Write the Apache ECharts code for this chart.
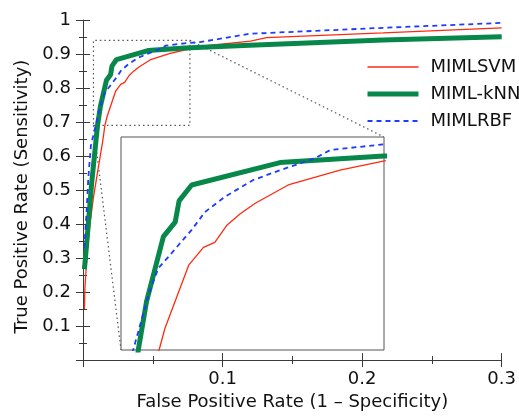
<!DOCTYPE html>
<html>
<head>
<meta charset="utf-8">
<script src="https://cdn.jsdelivr.net/npm/echarts@6/dist/echarts.min.js"></script>
<style>
html,body{margin:0;padding:0;background:#fff;}
#main{width:519px;height:416px;}
</style>
</head>
<body>
<div id="main"></div>
<script>
// ROC points [FPR, TPR]
var svmPts = [[0.001,0.15],[0.0014,0.214],[0.0034,0.34],[0.005,0.40],[0.0074,0.476],[0.0105,0.554],[0.014,0.64],
    [0.0157,0.69],[0.0172,0.7155],[0.0233,0.79],[0.027,0.8105],[0.0299,0.8164],[0.0329,0.836],[0.0363,0.8496],
    [0.0401,0.862],[0.0486,0.8837],[0.0618,0.901],[0.0728,0.9118],[0.09,0.925],[0.12,0.938],[0.1315,0.948],
    [0.215,0.962],[0.3,0.977]];
var knnPts = [[0.001,0.267],[0.0026,0.34],[0.0038,0.40],[0.0062,0.52],[0.0104,0.69],[0.0125,0.7467],[0.0168,0.823],
    [0.0198,0.84],[0.0208,0.865],[0.024,0.8837],[0.0465,0.91],[0.073,0.9177],[0.1195,0.926],[0.215,0.941],[0.3,0.951]];
var rbfPts = [[0.001,0.33],[0.0014,0.36],[0.0026,0.438],[0.0038,0.535],[0.0057,0.632],[0.0091,0.69],[0.013,0.7546],
    [0.0155,0.786],[0.0181,0.7995],[0.024,0.831],[0.0274,0.852],[0.0325,0.87],[0.0397,0.8895],[0.0465,0.901],
    [0.0554,0.915],[0.0593,0.9247],[0.0728,0.9314],[0.0838,0.935],[0.1195,0.9595],[0.215,0.977],[0.3,0.9915]];
var names = ['MIMLSVM', 'MIML-kNN', 'MIMLRBF'];

// dotted box on the main plot and the range shown in the inset
var zoomBoxX = [0.0075, 0.0766];
var zoomBoxY = [0.69, 0.94];
var insetX = [0.006, 0.073];
var insetY = [0.69, 0.94];

var font = 'DejaVu Sans';
var axisColor = '#3a3a3a';

var mainDiv = document.getElementById('main');
var myChart = echarts.init(mainDiv);

function hideZero(v) {
    if (Math.abs(v) < 1e-9) return '';
    return String(Math.round(v * 10) / 10);
}

function mainAxis(inside, withLabels) {
    return {
        type: 'value',
        gridIndex: 0,
        axisLine: { show: withLabels, onZero: false, lineStyle: { color: axisColor, width: 1 } },
        axisTick: { show: true, inside: inside, length: 7, lineStyle: { color: axisColor } },
        minorTick: { show: true, splitNumber: 2, length: 4, lineStyle: { color: axisColor } },
        axisLabel: { show: withLabels, formatter: hideZero, fontFamily: font, fontSize: 18, color: '#111' },
        splitLine: { show: false }
    };
}

var xMain = mainAxis(false, true);
xMain.min = 0; xMain.max = 0.3; xMain.interval = 0.1; xMain.position = 'bottom';
xMain.axisLabel.margin = 10;
xMain.name = 'False Positive Rate (1 \u2013 Specificity)';
xMain.nameLocation = 'middle';
xMain.nameGap = 32;
xMain.nameTextStyle = { fontFamily: font, fontSize: 18, color: '#111' };

var xMainIn = mainAxis(true, false);
xMainIn.min = 0; xMainIn.max = 0.3; xMainIn.interval = 0.1; xMainIn.position = 'bottom';

var yMain = mainAxis(false, true);
yMain.min = 0; yMain.max = 1; yMain.interval = 0.1; yMain.position = 'left';
yMain.axisLabel.margin = 12;
yMain.name = 'True Positive Rate (Sensitivity)';
yMain.nameLocation = 'middle';
yMain.nameGap = 52;
yMain.nameTextStyle = { fontFamily: font, fontSize: 18, color: '#111', padding: [0, 13, 0, 0] };

var yMainIn = mainAxis(true, false);
yMainIn.min = 0; yMainIn.max = 1; yMainIn.interval = 0.1; yMainIn.position = 'left';

var insetAxisX = { type: 'value', gridIndex: 1, min: insetX[0], max: insetX[1], show: false };
var insetAxisY = { type: 'value', gridIndex: 1, min: insetY[0], max: insetY[1], show: false };

var styles = [
    { color: '#ff2a10', width: 1.3, type: 'solid' },
    { color: '#07884a', width: 5, type: 'solid' },
    { color: '#1e3cff', width: 1.8, type: [5, 4] }
];
var pts = [svmPts, knnPts, rbfPts];

var series = [];
[0, 1].forEach(function (g) {
    for (var i = 0; i < 3; i++) {
        series.push({
            name: names[i],
            type: 'line',
            xAxisIndex: g === 0 ? 0 : 2,
            yAxisIndex: g === 0 ? 0 : 2,
            data: pts[i],
            showSymbol: false,
            symbol: 'none',
            animation: false,
            lineStyle: { color: styles[i].color, width: styles[i].width, type: styles[i].type },
            itemStyle: { color: styles[i].color },
            z: 3 + i
        });
    }
});

var legendData = names.map(function (n, i) {
    return {
        name: n,
        lineStyle: { color: styles[i].color, width: styles[i].width, type: styles[i].type },
        itemStyle: { opacity: 0, color: 'transparent', borderWidth: 0 }
    };
});

var option = {
    backgroundColor: '#fff',
    animation: false,
    legend: {
        orient: 'vertical',
        left: 365,
        top: 57,
        padding: 0,
        itemWidth: 51,
        itemHeight: 14,
        itemGap: 7,
        itemStyle: { opacity: 0, color: 'transparent', borderWidth: 0 },
        textStyle: { fontFamily: font, fontSize: 18, color: '#111', lineHeight: 20, padding: [0, 0, 0, 7] },
        data: legendData
    },
    grid: [
        { left: 83, top: 20, width: 419, height: 343 },
        { left: 121, top: 137, width: 263, height: 213, show: true, backgroundColor: '#fff', borderColor: '#555', borderWidth: 1, z: 2 }
    ],
    xAxis: [xMain, xMainIn, insetAxisX],
    yAxis: [yMain, yMainIn, insetAxisY],
    series: series
};
myChart.setOption(option);

// dotted zoom box and the two guide lines to the inset
function drawGuides() {
    var p = function (x, y) { return myChart.convertToPixel({ gridIndex: 0 }, [x, y]); };
    var q = function (x, y) { return myChart.convertToPixel({ gridIndex: 1 }, [x, y]); };
    var bl = p(zoomBoxX[0], zoomBoxY[0]), br = p(zoomBoxX[1], zoomBoxY[0]);
    var tr = p(zoomBoxX[1], zoomBoxY[1]), tl = p(zoomBoxX[0], zoomBoxY[1]);
    var iTr = q(insetX[1], insetY[1]), iBl = q(insetX[0], insetY[0]);
    var dotted = { stroke: '#555', lineWidth: 1.2, lineDash: [1.5, 3], fill: null };
    myChart.setOption({
        graphic: [
            { type: 'polyline', silent: true, z: 1, shape: { points: [bl, br, tr, tl, bl] }, style: dotted },
            { type: 'line', silent: true, z: 1, shape: { x1: tr[0], y1: tr[1], x2: iTr[0], y2: iTr[1] }, style: dotted },
            { type: 'line', silent: true, z: 1, shape: { x1: bl[0], y1: bl[1], x2: iBl[0], y2: iBl[1] }, style: dotted }
        ]
    });
}
drawGuides();
</script>
</body>
</html>
